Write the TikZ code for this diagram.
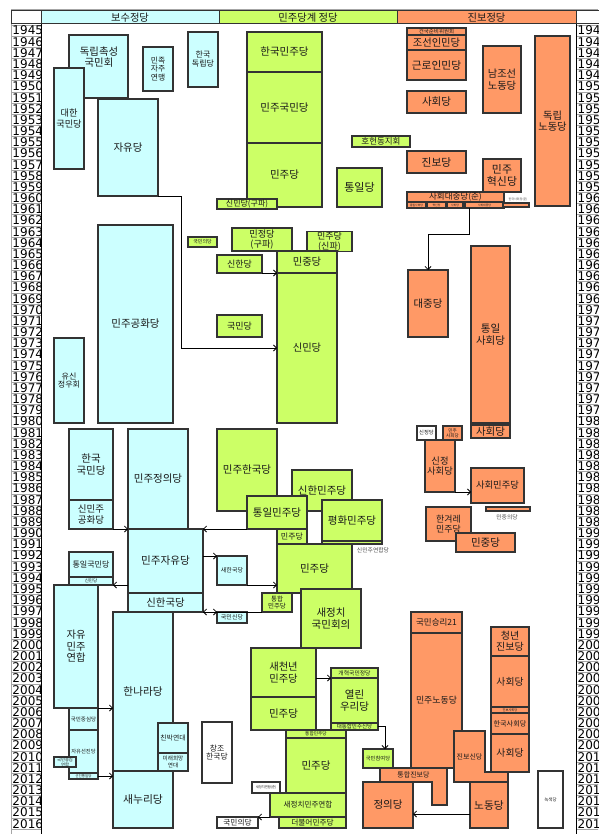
\documentclass[tikz,border=0pt]{standalone}
\usepackage{fontspec}
\setmainfont{DejaVu Sans}
\newfontfamily\kr{Noto Sans CJK KR}
\usetikzlibrary{arrows.meta,calc}
\definecolor{cy}{HTML}{CCFFFF}
\definecolor{gr}{HTML}{CCFF66}
\definecolor{orn}{HTML}{FF9966}
\definecolor{ln}{HTML}{333333}
\definecolor{txt}{HTML}{1A1A1A}
\newcommand\pbx[8]{%
  \pgfmathsetmacro\bsk{#7*1.12}%
  \node[pbox,fill=#6,font={\kr\fontsize{#7}{\bsk}\selectfont},minimum width={#4pt-#2pt},minimum height={#5pt-#3pt}] (#1) at ({(#2+#4)/2},{(#3+#5)/2}) {#8};}
\begin{document}
\begin{tikzpicture}[x=1pt,y=-1pt,
  pbox/.style={draw=ln,line width=1.2pt,inner sep=0pt,outer sep=0pt,align=center,text=txt},
  conn/.style={draw=black,line width=0.8pt,-{Straight Barb[length=3pt,width=6pt]}},
  yrcell/.style={draw=gray!70,line width=0.9pt},
  hdr/.style={draw=ln,line width=1pt,inner sep=0pt,outer sep=0pt,anchor=north west,minimum height=13pt,text=txt,font={\kr\fontsize{10.3}{12}\selectfont}},
  tinylbl/.style={font={\kr\fontsize{5.8}{6.5}\selectfont},text=gray!60!black,inner sep=0pt},
  lbl/.style={inner sep=0pt,align=center,text=txt}]
\useasboundingbox (0,0) rectangle (598,834);
\fill[white] (0,0) rectangle (598,834);

% ---------- year columns ----------
\begin{scope}
\clip (11,24) rectangle (41,834);
\foreach \i in {0,...,71}{
  \pgfmathsetmacro\yt{25+\i*11.17}
  \pgfmathtruncatemacro\yr{1945+\i}
  \draw[yrcell] (11,\yt) rectangle (41,{\yt+11.17});
  \node[anchor=base west,inner sep=0pt,font=\fontsize{12}{12}\selectfont] (yl\i) at (12.3,{\yt+10}) {\yr};
}
\end{scope}
\begin{scope}
\clip (576,24) rectangle (598,834);
\foreach \i in {0,...,71}{
  \pgfmathsetmacro\yt{25+\i*11.17}
  \pgfmathtruncatemacro\yr{1945+\i}
  \draw[yrcell] (576,\yt) rectangle (606,{\yt+11.17});
  \node[anchor=base west,inner sep=0pt,font=\fontsize{12}{12}\selectfont] (yr\i) at (577.5,{\yt+10}) {\yr};
}
\end{scope}
\draw[gray!70,line width=2pt] (11,10) -- (598,10);
\draw[gray!70,line width=1.5pt] (11.5,10) -- (11.5,834);
\draw[black,line width=1pt] (41,24) -- (41,834);
\draw[black,line width=1pt] (576,24) -- (576,834);

% ---------- header ----------
\node[hdr,fill=white,minimum width=30pt] (h0) at (11,11) {};
\node[hdr,fill=cy,minimum width=178pt] (h1) at (41,11) {보수정당};
\node[hdr,fill=gr,minimum width=178pt] (h2) at (219,11) {민주당계 정당};
\node[hdr,fill=orn,minimum width=179pt] (h3) at (397,11) {진보정당};
\node[hdr,fill=white,minimum width=30pt] (h4) at (576,11) {};

% ---------- conservative ----------
\pbx{dokrip}{69}{35}{128}{98}{cy}{10.4}{}
\node[lbl,font={\kr\fontsize{10.4}{11.7}\selectfont}] (dokript) at (99,57) {독립촉성\\국민회};
\pbx{daehan}{54}{68}{84}{169}{cy}{9.2}{대한\\국민당}
\pbx{minjok}{143}{47}{173}{91}{cy}{7.8}{민족\\자주\\연맹}
\pbx{handok}{188}{32}{218}{87}{cy}{8}{한국\\독립당}
\pbx{jayu}{98}{99}{158}{196}{cy}{10.5}{자유당}
\pbx{gonghwa}{98}{225}{173}{423}{cy}{10.5}{민주공화당}
\pbx{yusin}{54}{338}{84}{423}{cy}{8}{유신\\정우회}
\pbx{hanguk}{69}{429}{113}{500}{cy}{10.5}{한국\\국민당}
\pbx{sinminju}{69}{500}{113}{529}{cy}{9.5}{신민주\\공화당}
\pbx{minjeong}{128}{429}{188}{529}{cy}{10.5}{민주정의당}
\pbx{minja}{128}{529}{203}{593}{cy}{10.6}{민주자유당}
\pbx{sinhanguk}{128}{593}{203}{612}{cy}{10.4}{신한국당}
\pbx{tongilgm}{69}{552}{113}{577}{cy}{8}{통일국민당}
\pbx{sinmin95}{69}{577}{113}{585}{cy}{4.5}{신민당}
\pbx{jamin}{54}{585}{98}{708}{cy}{10.3}{자유\\민주\\연합}
\pbx{hannara}{113}{612}{173}{771}{cy}{10.6}{한나라당}
\pbx{gmjs}{69}{708}{98}{730}{cy}{5.5}{국민중심당}
\pbx{jayuseon}{69}{730}{98}{773}{cy}{5.3}{자유선진당}
\pbx{gmjsyh}{54}{757}{76}{767}{cy}{4.3}{국민중심\\연합}
\pbx{seonjin}{69}{773}{98}{779}{cy}{3.5}{선진통일당}
\pbx{chinbak}{158}{723}{188}{753}{cy}{6.8}{친박연대}
\pbx{mirae}{158}{753}{188}{771}{cy}{5.6}{미래희망\\연대}
\pbx{saenuri}{113}{771}{173}{828}{cy}{10.8}{새누리당}
\pbx{saehan}{217}{556}{247}{585}{cy}{6}{새한국당}
\pbx{gukminsin}{217}{612}{247}{623}{cy}{6}{국민신당}

% ---------- democratic ----------
\pbx{hanmin}{247}{32}{322}{72}{gr}{10.5}{한국민주당}
\pbx{mingug}{247}{72}{322}{143}{gr}{10.5}{민주국민당}
\pbx{minju55}{247}{143}{322}{207}{gr}{10.5}{민주당}
\pbx{hoheon}{352}{136}{410}{147}{gr}{8.5}{호헌동지회}
\pbx{tongil}{337}{168}{382}{207}{gr}{11}{통일당}
\pbx{sinmingu}{217}{199}{277}{209}{gr}{8}{신민당(구파)}
\pbx{gukmineui63}{188}{237}{217}{247}{gr}{5}{국민의당}
\pbx{minjeongdang}{232}{228}{292}{251}{gr}{9.2}{민정당\\(구파)}
\pbx{minjusin}{307}{232}{352}{251}{gr}{9}{민주당\\(신파)}
\pbx{sinhan}{217}{255}{262}{273}{gr}{9}{신한당}
\pbx{minjung65}{277}{251}{337}{273}{gr}{10.3}{민중당}
\pbx{sinmin67}{277}{273}{337}{423}{gr}{10.3}{신민당}
\pbx{gukmin71}{217}{315}{262}{337}{gr}{9}{국민당}
\pbx{minhan}{217}{429}{277}{511}{gr}{10.5}{민주한국당}
\pbx{sinhanminju}{292}{470}{352}{511}{gr}{10.5}{신한민주당}
\pbx{tongilminju}{247}{496}{307}{529}{gr}{10.5}{통일민주당}
\pbx{pyeonghwa}{322}{500}{382}{541}{gr}{10.5}{평화민주당}
\pbx{sinminyeon}{322}{541}{382}{544}{gr}{2}{}
\node[tinylbl] (sinminyeont) at (373,550) {신민주연합당};
\pbx{minju90}{277}{529}{307}{544}{gr}{8}{민주당}
\pbx{minju91}{277}{544}{352}{593}{gr}{10.5}{민주당}
\pbx{tonghap95}{262}{593}{292}{612}{gr}{6.5}{통합\\민주당}
\pbx{saekuk}{301}{589}{361}{648}{gr}{10.5}{새정치\\국민회의}
\pbx{saecheon}{251}{648}{316}{697}{gr}{10.3}{새천년\\민주당}
\pbx{minju05}{251}{697}{316}{730}{gr}{10.5}{민주당}
\pbx{gaehyeok}{331}{668}{378}{678}{gr}{5.8}{개혁국민정당}
\pbx{yeollin}{331}{678}{378}{723}{gr}{10.5}{열린\\우리당}
\pbx{daetonghap}{331}{723}{378}{730}{gr}{5.5}{대통합민주신당}
\pbx{tonghap08}{286}{730}{346}{738}{gr}{4.7}{통합민주당}
\pbx{minju08}{286}{738}{346}{793}{gr}{10.5}{민주당}
\pbx{snjyh}{270}{793}{346}{817}{gr}{7.6}{새정치민주연합}
\pbx{deobureo}{279}{817}{346}{828}{gr}{7.7}{더불어민주당}
\pbx{chamyeo}{363}{749}{393}{768}{gr}{5.3}{국민참여당}

% ---------- white ----------
\pbx{changjo}{202}{722}{232}{783}{white}{7.8}{창조\\한국당}
\pbx{saejyh}{252}{782}{280}{793}{white}{3.3}{새정치연합(준)}
\pbx{gukmineui16}{217}{817}{258}{828}{white}{7.7}{국민의당}
\pbx{noksaek}{538}{771}{563}{828}{white}{4.5}{녹색당}
\pbx{sinjeongdang}{417}{426}{436}{440}{white}{5.3}{신정당}

% ---------- progressive ----------
\pbx{geonjun}{407}{28}{466}{35}{orn}{5.5}{건국준비위원회}
\pbx{joseon}{407}{35}{466}{50}{orn}{10.3}{조선인민당}
\pbx{geunro}{407}{50}{466}{80}{orn}{10.7}{근로인민당}
\pbx{sahoe50}{407}{91}{466}{113}{orn}{10.5}{사회당}
\pbx{namjoseon}{483}{46}{521}{113}{orn}{10.3}{남조선\\노동당}
\pbx{dokrodong}{535}{36}{570}{206}{orn}{10.3}{독립\\노동당}
\pbx{jinbo}{407}{151}{466}{173}{orn}{10.7}{진보당}
\pbx{minhyeok}{483}{159}{521}{192}{orn}{10.9}{민주\\혁신당}
\pbx{sahoedj}{407}{192}{504}{202}{orn}{8.5}{사회대중당(준)}
\pbx{sd1}{407}{202}{426}{208}{orn}{2.8}{통일사회당}
\pbx{sd2}{427}{202}{446}{208}{orn}{2.8}{혁신당}
\pbx{sd3}{447}{202}{463}{208}{orn}{2.8}{사회당}
\pbx{sd4}{465}{202}{504}{208}{orn}{2.8}{사회대중당}
\pbx{hansa61}{503}{203}{529}{207}{orn}{2}{}
\node[tinylbl,font={\kr\fontsize{3}{3.5}\selectfont}] (hansa61t) at (518,199.5) {한국사회당(준)};
\pbx{daejung}{408}{270}{448}{337}{orn}{10.4}{대중당}
\pbx{tongilsa}{471}{246}{510}{423}{orn}{10.5}{통일\\사회당}
\pbx{sahoe81}{471}{425}{510}{438}{orn}{10.5}{사회당}
\pbx{minsa}{443}{426}{462}{440}{orn}{4.6}{민주\\사회당}
\pbx{sinjeongsa}{425}{440}{455}{492}{orn}{9.3}{신정\\사회당}
\pbx{sahoeminju}{471}{468}{524}{503}{orn}{9.3}{사회민주당}
\pbx{minjungeui}{486}{507}{530}{511}{orn}{2}{}
\node[tinylbl] (minjungeuit) at (507,517) {민중의당};
\pbx{hangyeore}{426}{507}{471}{541}{orn}{8.9}{한겨레\\민주당}
\pbx{minjung90}{456}{533}{515}{552}{orn}{10.5}{민중당}
\pbx{seungni}{411}{612}{462}{633}{orn}{8.5}{국민승리21}
\pbx{minnodong}{411}{633}{462}{768}{orn}{8.9}{민주노동당}
\pbx{cheongnyeon}{491}{627}{529}{656}{orn}{10}{청년\\진보당}
\pbx{sahoe02}{491}{656}{529}{707}{orn}{9.8}{사회당}
\pbx{jinbosa}{491}{707}{529}{713}{orn}{3.2}{진보사회당}
\pbx{hansahoe}{491}{713}{529}{734}{orn}{7.1}{한국사회당}
\pbx{sahoe09}{491}{734}{529}{772}{orn}{9.8}{사회당}
\draw[draw=ln,line width=1.2pt,fill=orn] (380,768) -- (447,768) -- (447,805) -- (432,805) -- (432,782) -- (380,782) -- cycle;
\node[lbl,font={\kr\fontsize{7}{8}\selectfont}] (tonghapjb) at (413.5,775) {통합진보당};
\draw[draw=ln,line width=1.2pt,fill=orn] (454,731) -- (485,731) -- (485,772) -- (508,772) -- (508,782) -- (454,782) -- cycle;
\node[lbl,font={\kr\fontsize{7}{8}\selectfont}] (jinbosin) at (469.5,757) {진보신당};
\pbx{jeongui}{363}{782}{413}{828}{orn}{10.5}{정의당}
\pbx{nodong}{470}{782}{508}{828}{orn}{10.7}{노동당}

% ---------- connectors ----------
\draw[conn] (jayu.south east) -- ++(23,0) |- (sinmin67.west);
\draw[conn] ($(sd4.south)+(-15.5,0)$) -- ++(0,26) -| (daejung.north);
\draw[conn] (sinhan.south east) -- (sinmin67.west |- sinhan.south east);
\draw[conn] (sinminju.south east) -- (minja.north west);
\draw[conn] (tongilminju.south west) -- (minja.north east);
\draw[conn] (minja.west |- sinmin95.south east) -- (sinmin95.south east);
\draw[conn] (minja.east |- saehan.north west) -- (saehan.north west);
\draw[conn] (saehan.south east) -- (minju91.west |- saehan.south east);
\draw[conn] (tonghap95.south west) -- (sinhanguk.south east);
\draw[conn] (sinhanguk.south east) -- (gukminsin.north west);
\draw[conn] (jamin.south east) -- (hannara.west |- jamin.south east);
\draw[conn] (seonjin.east) -- (saenuri.west |- seonjin.east);
\draw[conn] (saecheon.east |- yeollin.north west) -- (yeollin.north west);
\draw[conn] (daetonghap.east) -| ([xshift=7pt]chamyeo.north);
\draw[conn] (snjyh.south west) -- (gukmineui16.north east);
\draw[conn] ([yshift=-9pt]nodong.west) -- ([yshift=-9pt]jeongui.east);
\draw[conn] (sinjeongsa.south east) -- (sahoeminju.west |- sinjeongsa.south east);
\end{tikzpicture}
\end{document}
